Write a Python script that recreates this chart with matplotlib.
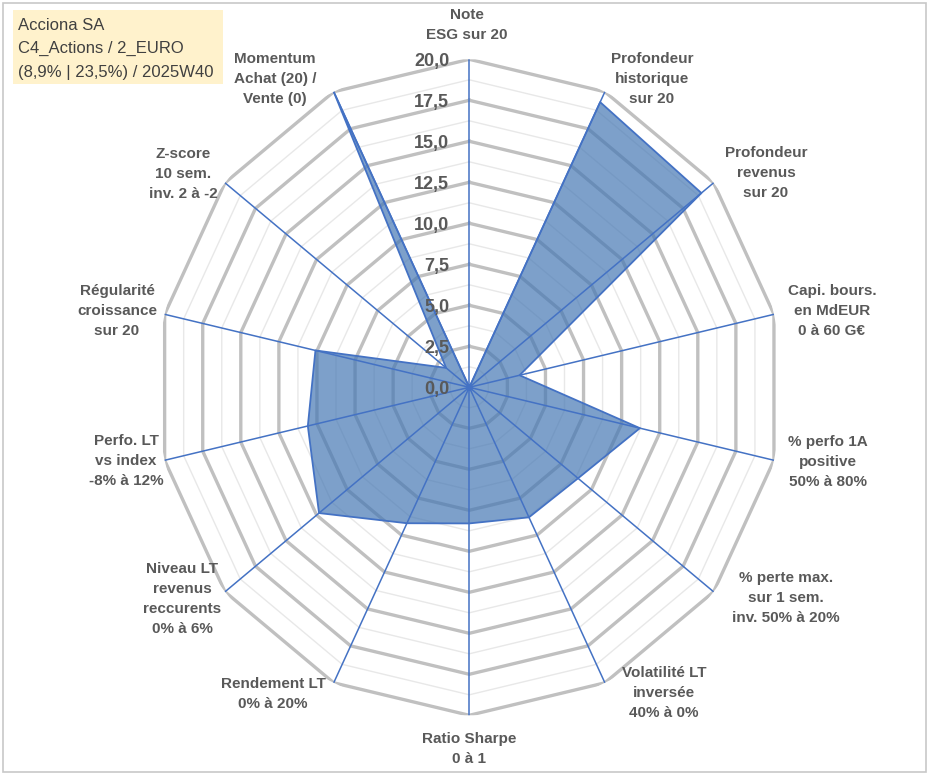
import numpy as np
import matplotlib
matplotlib.use("Agg")
import matplotlib.pyplot as plt
from matplotlib import transforms
from matplotlib.patches import Rectangle

# ---- data ----
categories = [
    "Note\nESG sur 20",
    "Profondeur\nhistorique\nsur 20",
    "Profondeur\nrevenus\nsur 20",
    "Capi. bours.\nen MdEUR\n0 à 60 G€",
    "% perfo 1A\npositive\n50% à 80%",
    "% perte max.\nsur 1 sem.\ninv. 50% à 20%",
    "Volatilité LT\ninversée\n40% à 0%",
    "Ratio Sharpe\n0 à 1",
    "Rendement LT\n0% à 20%",
    "Niveau LT\nrevenus\nreccurents\n0% à 6%",
    "Perfo. LT\nvs index\n-8% à 12%",
    "Régularité\ncroissance\nsur 20",
    "Z-score\n10 sem.\ninv. 2 à -2",
    "Momentum\nAchat (20) /\nVente (0)",
]
values = [0.0, 19.3, 19.0, 3.3, 11.2, 8.9, 8.8, 8.3, 9.2, 12.3, 10.6, 10.1, 1.9, 20.0]
tick_values = [0.0, 2.5, 5.0, 7.5, 10.0, 12.5, 15.0, 17.5, 20.0]
tick_labels = ["0,0", "2,5", "5,0", "7,5", "10,0", "12,5", "15,0", "17,5", "20,0"]
minor_levels = [1.25, 3.75, 6.25, 8.75, 11.25, 13.75, 16.25, 18.75]
title_lines = ["Acciona SA", "C4_Actions / 2_EURO", "(8,9% | 23,5%) / 2025W40"]

# label centre positions (pixels in the 933x776 figure)
label_pos = [
    (467, 25), (652, 79), (766, 173), (832, 311), (828, 462), (786, 598),
    (664, 693), (469, 749), (273, 694), (182, 599), (126, 461), (117, 311),
    (183, 174), (275, 79),
]

W, H = 933, 776
fig = plt.figure(figsize=(W / 100, H / 100), dpi=100)
fig.patch.set_facecolor("white")

cx, cy, Rx, Ry = 469.3, 387.3, 312.5, 328.0
ax = fig.add_axes([(cx - Rx) / W, 1 - (cy + Ry) / H, 2 * Rx / W, 2 * Ry / H],
                  projection="polar")
ax.set_aspect("auto")
ax.set_theta_zero_location("N")
ax.set_theta_direction(-1)
ax.set_ylim(0, 20)
ax.grid(False)
ax.spines["polar"].set_visible(False)
ax.set_xticks([])
ax.set_yticks([])
ax.patch.set_alpha(0)

n = len(categories)
angles = np.linspace(0, 2 * np.pi, n, endpoint=False)
ang_c = np.concatenate([angles, angles[:1]])

# minor rings
for lv in minor_levels:
    ax.plot(ang_c, [lv] * (n + 1), color="#E8E8E8", lw=1.0, zorder=1)
# major rings
for lv in tick_values[1:]:
    ax.plot(ang_c, [lv] * (n + 1), color="#C0C0C0", lw=2.4, zorder=2,
            solid_joinstyle="miter")

# data polygon
vals_c = values + values[:1]
ax.fill(ang_c, vals_c, color=(70 / 255, 120 / 255, 180 / 255), alpha=0.70,
        lw=0, zorder=3)
ax.plot(ang_c, vals_c, color="#4472C4", lw=1.3, zorder=4)

# spokes
for a in angles:
    ax.plot([a, a], [0, 20], color="#4472C4", lw=1.1, zorder=5)
ax.plot([0], [0], "o", color="#4472C4", ms=4, zorder=6)

# tick labels
off = transforms.offset_copy(ax.transData, fig=fig, x=-20, y=-2, units="dots")
for v, t in zip(tick_values, tick_labels):
    ax.text(0, v, t, transform=off, ha="right", va="center",
            fontsize=13, fontweight="bold", color="#595959",
            family="Liberation Sans", zorder=7)

# category labels
for lab, (x, y) in zip(categories, label_pos):
    fig.text(x / W, 1 - y / H, lab, ha="center", va="center",
             fontsize=11, fontweight="bold", color="#595959",
             family="Liberation Sans", linespacing=1.55)

# title box
fig.patches.append(Rectangle((13 / W, 1 - 84 / H), 210 / W, 74 / H,
                             transform=fig.transFigure, facecolor="#FFF2CC",
                             edgecolor="none", zorder=0))
for i, line in enumerate(title_lines):
    fig.text(18 / W, 1 - (25 + i * 23.5) / H, line, ha="left", va="center",
             fontsize=12, color="#404040", family="Liberation Sans")

# chart border
fig.patches.append(Rectangle((3 / W, 4 / H), 923 / W, 769 / H,
                             transform=fig.transFigure, facecolor="none",
                             edgecolor="#C8C8C8", lw=1.2))

fig.savefig("out.png", dpi=100)
